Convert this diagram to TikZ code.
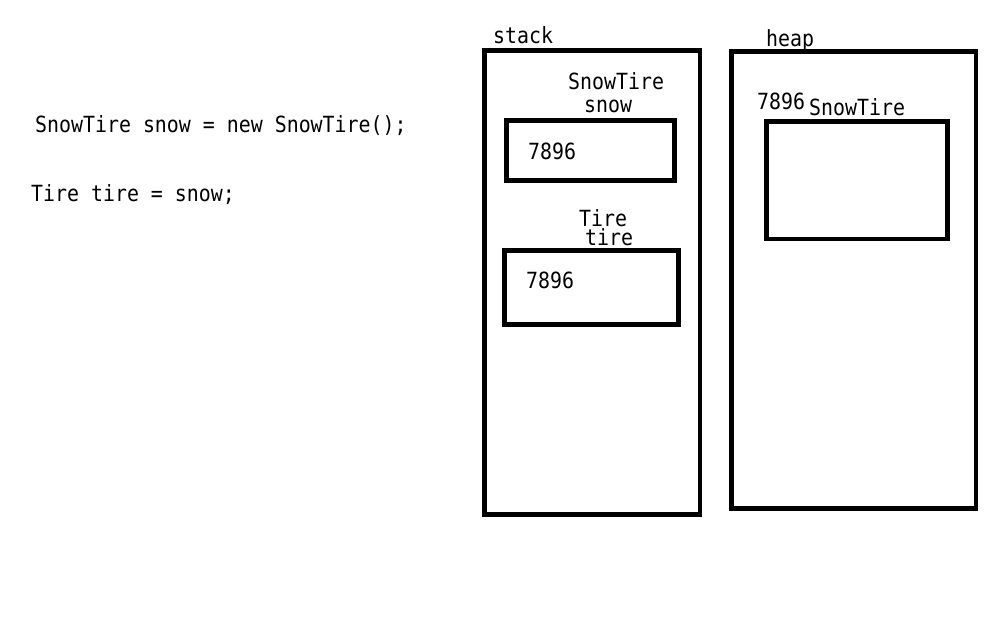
\documentclass[tikz,border=0pt]{standalone}
\usepackage{fontspec}
\setmainfont{DejaVu Sans Mono}
\newcommand{\tallt}[1]{\scalebox{1}[1.12]{#1}}
\begin{document}
\begin{tikzpicture}[x=1pt,y=-1pt,
  box/.style={draw=black,line width=4.7pt},
  lbl/.style={anchor=base west,inner sep=0pt,font=\fontsize{19.9}{22}\selectfont}]
\useasboundingbox[fill=white] (0,0) rectangle (1006,640);
% code
\node[lbl] (code1) at (35,132) {\tallt{SnowTire snow = new SnowTire();}};
\node[lbl] (code2) at (31,201) {\tallt{Tire tire = snow;}};
% stack
\draw[box] (484.7,50.7) rectangle (700,514.3);
\node[lbl] (stacklbl) at (493,43) {\tallt{stack}};
\draw[box] (506.3,120.7) rectangle (674.7,180.3);
\node[lbl] (t1) at (568,89) {\tallt{SnowTire}};
\node[lbl] (n1) at (584,112) {\tallt{snow}};
\node[lbl] (v1) at (528,159) {\tallt{7896}};
\draw[box] (504.3,250.3) rectangle (678.3,324.3);
\node[lbl] (t2) at (579,226) {\tallt{Tire}};
\node[lbl] (n2) at (585,245) {\tallt{tire}};
\node[lbl] (v2) at (526,288) {\tallt{7896}};
% heap
\draw[box] (731.7,51.7) rectangle (976,508.3);
\node[lbl] (heaplbl) at (766,46) {\tallt{heap}};
\draw[box] (766.3,121.7) rectangle (947.7,239);
\node[lbl] (addr) at (757,109) {\tallt{7896}};
\node[lbl] (obj) at (809,115) {\tallt{SnowTire}};
\end{tikzpicture}
\end{document}
